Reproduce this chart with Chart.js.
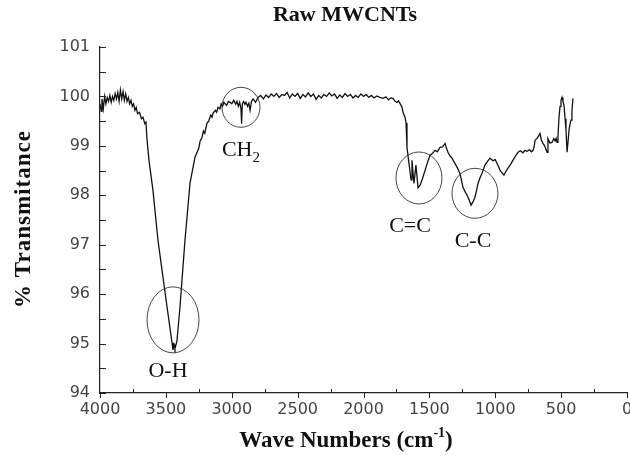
<!DOCTYPE html>
<html>
<head>
<meta charset="utf-8">
<script src="https://cdn.jsdelivr.net/npm/chart.js@4"></script>
<style>
  html, body { margin: 0; padding: 0; background: #fff; }
  #wrap { width: 630px; height: 456px; }
</style>
</head>
<body>
<div id="wrap"><canvas id="ftir" width="630" height="456"></canvas></div>
<script>
// FTIR spectrum of raw MWCNTs
const waveNumbers = [
  4000, 3990, 3985, 3975, 3965, 3955, 3945, 3935, 3925, 3915, 3905, 3895, 3885, 3875, 3865,
  3855, 3845, 3835, 3825, 3815, 3805, 3795, 3785, 3775, 3765, 3755, 3745, 3735, 3725, 3715,
  3700, 3685, 3674, 3660, 3651, 3643, 3628, 3598, 3560, 3529, 3491, 3453, 3446, 3438, 3431,
  3416, 3393, 3355, 3317, 3279, 3250, 3240, 3226, 3215, 3205, 3188, 3175, 3160, 3150, 3142,
  3125, 3115, 3104, 3090, 3080, 3070, 3060, 3040, 3025, 3013, 3000, 2985, 2970, 2960, 2950,
  2940, 2930, 2925, 2920, 2910, 2900, 2892, 2880, 2870, 2861, 2850, 2838, 2820, 2800, 2780,
  2760, 2740, 2720, 2700, 2680, 2660, 2640, 2620, 2600, 2580, 2560, 2540, 2520, 2500, 2480,
  2460, 2440, 2420, 2400, 2380, 2360, 2340, 2320, 2300, 2280, 2260, 2240, 2220, 2200, 2180,
  2160, 2140, 2120, 2100, 2080, 2060, 2040, 2020, 2000, 1980, 1960, 1940, 1920, 1900, 1875,
  1850, 1830, 1810, 1795, 1776, 1760, 1746, 1735, 1723, 1708, 1700, 1685, 1677, 1670, 1655,
  1639, 1632, 1617, 1602, 1586, 1571, 1556, 1545, 1533, 1515, 1495, 1475, 1457, 1440, 1419,
  1400, 1381, 1370, 1359, 1345, 1328, 1310, 1290, 1268, 1245, 1230, 1214, 1200, 1184, 1170,
  1154, 1140, 1131, 1115, 1101, 1090, 1078, 1060, 1040, 1017, 1000, 987, 975, 964, 950,
  934, 920, 903, 885, 865, 845, 827, 810, 790, 775, 759, 740, 725, 713, 705,
  698, 680, 660, 650, 638, 625, 607, 600, 585, 569, 555, 546, 538, 531, 524,
  516, 508, 501, 493, 486, 478, 470, 463, 455, 447, 440, 432, 425, 418, 410
];
const transmittance = [
  99.85, 99.70, 99.95, 99.75, 100.00, 99.85, 99.98, 99.90, 100.02, 99.88, 100.00, 99.92, 100.06, 99.95, 100.08,
  99.90, 100.13, 99.95, 100.10, 99.92, 100.05, 99.90, 99.98, 99.85, 99.92, 99.80, 99.85, 99.72, 99.78, 99.65,
  99.68, 99.55, 99.58, 99.45, 99.48, 99.12, 98.70, 98.10, 97.09, 96.48, 95.74, 95.01, 94.87, 94.98, 94.90,
  95.05, 95.74, 97.09, 98.24, 98.77, 98.95, 99.10, 99.17, 99.30, 99.25, 99.46, 99.50, 99.62, 99.58, 99.66,
  99.72, 99.68, 99.78, 99.75, 99.85, 99.80, 99.88, 99.82, 99.90, 99.88, 99.85, 99.92, 99.84, 99.90, 99.80,
  99.88, 99.75, 99.45, 99.85, 99.90, 99.84, 99.88, 99.80, 99.86, 99.72, 99.90, 99.95, 99.88, 99.98, 100.02,
  99.95, 100.03, 99.98, 100.05, 100.00, 100.06, 99.98, 100.04, 100.02, 100.08, 99.97, 100.05, 100.00, 100.06, 99.96,
  100.04, 99.99, 100.07, 100.00, 100.05, 99.94, 100.02, 99.97, 100.04, 100.00, 100.07, 100.01, 100.05, 99.96, 100.03,
  99.98, 100.06, 100.00, 100.04, 99.97, 100.02, 99.98, 100.05, 100.00, 100.04, 99.98, 100.02, 99.97, 100.01, 99.98,
  99.96, 99.99, 99.93, 99.97, 99.96, 99.90, 99.88, 99.91, 99.86, 99.78, 99.68, 99.58, 99.46, 98.97, 98.65,
  98.31, 98.71, 98.24, 98.61, 98.15, 98.20, 98.31, 98.40, 98.50, 98.66, 98.81, 98.85, 98.91, 98.88, 98.97,
  98.98, 99.05, 98.95, 98.87, 98.80, 98.75, 98.66, 98.57, 98.44, 98.16, 98.08, 98.00, 97.92, 97.80, 97.86,
  97.96, 98.12, 98.24, 98.36, 98.44, 98.52, 98.61, 98.68, 98.75, 98.70, 98.72, 98.65, 98.58, 98.51, 98.46,
  98.41, 98.48, 98.55, 98.62, 98.71, 98.80, 98.87, 98.90, 98.86, 98.91, 98.89, 98.92, 98.88, 98.91, 98.98,
  99.11, 99.16, 99.25, 99.12, 99.05, 99.00, 98.87, 99.15, 99.06, 99.07, 99.15, 99.10, 99.15, 99.07, 99.20,
  99.58, 99.80, 99.92, 99.98, 99.90, 99.82, 99.55, 99.32, 98.87, 99.10, 99.32, 99.45, 99.52, 99.70, 99.96
];

// axis ticks
const xTicks = [4000, 3500, 3000, 2500, 2000, 1500, 1000, 500, 0];
const yTicks = [94, 95, 96, 97, 98, 99, 100, 101];

// band annotations (wave number, transmittance of the ring centre, label position)
const bandNames = ['O-H', 'CH2', 'C=C', 'C-C'];
const bandRingWn = [3446, 2930, 1579, 1154];
const bandRingT = [95.48, 99.78, 98.35, 98.04];
const bandLabelWn = [3484, 2930, 1647, 1169];
const bandLabelT = [94.44, 98.91, 97.37, 97.07];

const ringSize = [[26, 33], [19, 20], [23, 26], [23, 25]];

const points = waveNumbers.map((wn, i) => ({ x: wn, y: transmittance[i] }));

const serif = '"Liberation Serif", "Times New Roman", serif';
const sans = '"DejaVu Sans", Verdana, sans-serif';

// draw tick marks, rings, labels and titles
const decorations = {
  id: 'decorations',
  afterDraw(chart) {
    const ctx = chart.ctx;
    const xs = chart.scales.x;
    const ys = chart.scales.y;
    const area = chart.chartArea;

    ctx.save();
    ctx.strokeStyle = '#222';
    ctx.lineWidth = 1;

    // y ticks point inward, every half unit
    for (let v = 94; v <= 101; v += 0.5) {
      const py = Math.round(ys.getPixelForValue(v)) + 0.5;
      ctx.beginPath();
      ctx.moveTo(area.left, py);
      ctx.lineTo(area.left + 6, py);
      ctx.stroke();
    }
    // x ticks, every 250
    for (let v = 0; v <= 4000; v += 250) {
      const px = Math.round(xs.getPixelForValue(v)) + 0.5;
      ctx.beginPath();
      if (v % 500 === 0) {
        ctx.moveTo(px, area.bottom);
        ctx.lineTo(px, area.bottom + 5);
      } else {
        ctx.moveTo(px, area.bottom);
        ctx.lineTo(px, area.bottom - 4);
      }
      ctx.stroke();
    }

    // rings
    ctx.strokeStyle = '#333';
    ctx.lineWidth = 0.9;
    bandNames.forEach((name, i) => {
      const cx = xs.getPixelForValue(bandRingWn[i]);
      const cy = ys.getPixelForValue(bandRingT[i]);
      ctx.beginPath();
      ctx.ellipse(cx, cy, ringSize[i][0], ringSize[i][1], 0, 0, Math.PI * 2);
      ctx.stroke();
    });

    // band labels
    ctx.fillStyle = '#111';
    ctx.textBaseline = 'middle';
    ctx.font = '22px ' + serif;
    bandNames.forEach((name, i) => {
      const lx = xs.getPixelForValue(bandLabelWn[i]);
      const ly = ys.getPixelForValue(bandLabelT[i]);
      if (name === 'CH2') {
        const w = ctx.measureText('CH').width;
        ctx.font = '15px ' + serif;
        const w2 = ctx.measureText('2').width;
        ctx.font = '22px ' + serif;
        ctx.textAlign = 'left';
        const x0 = lx - (w + w2) / 2;
        ctx.fillText('CH', x0, ly);
        ctx.font = '15px ' + serif;
        ctx.fillText('2', x0 + w, ly + 8);
        ctx.font = '22px ' + serif;
      } else {
        ctx.textAlign = 'center';
        ctx.fillText(name, lx, ly);
      }
    });

    // chart title
    ctx.textAlign = 'center';
    ctx.font = 'bold 22px ' + serif;
    ctx.fillText('Raw MWCNTs', 345, 15);

    // x axis title with superscript
    ctx.font = 'bold 23px ' + serif;
    const a = 'Wave Numbers (cm';
    const wa = ctx.measureText(a).width;
    const wc = ctx.measureText(')').width;
    ctx.font = 'bold 14px ' + serif;
    const wb = ctx.measureText('-1').width;
    let x0 = 346 - (wa + wb + wc) / 2;
    ctx.textAlign = 'left';
    ctx.font = 'bold 23px ' + serif;
    ctx.fillText(a, x0, 441);
    ctx.font = 'bold 14px ' + serif;
    ctx.fillText('-1', x0 + wa, 433);
    ctx.font = 'bold 23px ' + serif;
    ctx.fillText(')', x0 + wa + wb, 441);

    // y axis title
    ctx.translate(24, 219);
    ctx.rotate(-Math.PI / 2);
    ctx.textAlign = 'center';
    ctx.font = 'bold 23px ' + serif;
    ctx.letterSpacing = '1px';
    ctx.fillText('% Transmitance', 0, 0);

    ctx.restore();
  }
};

new Chart(document.getElementById('ftir'), {
  type: 'line',
  data: {
    datasets: [{
      label: 'Raw MWCNTs',
      data: points,
      borderColor: '#111',
      borderWidth: 1.3,
      pointRadius: 0,
      tension: 0,
      fill: false
    }]
  },
  options: {
    responsive: false,
    animation: false,
    layout: { padding: { top: 47, right: 3, left: 0, bottom: 0 } },
    plugins: {
      legend: { display: false },
      title: { display: false },
      tooltip: { enabled: false }
    },
    scales: {
      x: {
        type: 'linear',
        reverse: true,
        min: 0,
        max: 4000,
        afterBuildTicks: (scale) => { scale.ticks = xTicks.map(v => ({ value: v })); },
        afterFit: (scale) => {
          scale.height = 63;
          scale.paddingLeft = 0;
          scale.paddingRight = 0;
        },
        ticks: {
          autoSkip: false,
          maxRotation: 0,
          padding: 7,
          color: '#444',
          font: { family: sans, size: 16 },
          callback: (v) => String(v)
        },
        grid: { drawOnChartArea: false, drawTicks: false },
        border: { display: true, color: '#222', width: 1.2 }
      },
      y: {
        type: 'linear',
        min: 94,
        max: 101,
        afterBuildTicks: (scale) => { scale.ticks = yTicks.map(v => ({ value: v })); },
        afterFit: (scale) => {
          scale.width = 100;
          scale.paddingTop = 0;
          scale.paddingBottom = 0;
        },
        ticks: {
          padding: 10,
          color: '#444',
          font: { family: sans, size: 16 }
        },
        grid: { drawOnChartArea: false, drawTicks: false },
        border: { display: true, color: '#222', width: 1.2 }
      }
    }
  },
  plugins: [decorations]
});
</script>
</body>
</html>
